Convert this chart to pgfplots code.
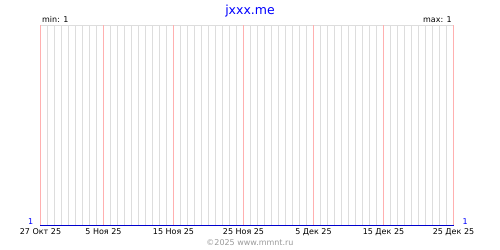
\documentclass[border=0pt]{standalone}
\usepackage{fontspec}
\setmainfont{DejaVu Sans}
\usepackage{pgfplots}
\pgfplotsset{compat=1.18}
\definecolor{gridgray}{HTML}{DDDDDD}
\definecolor{gridpink}{HTML}{FFB0B0}
\definecolor{lineblue}{HTML}{0000CC}
\definecolor{titleblue}{HTML}{0000FF}
\definecolor{copygray}{HTML}{999999}
\begin{document}
\begin{tikzpicture}
\path[use as bounding box] (0,0) rectangle (500bp,250bp);
\begin{axis}[
  at={(40.5bp,24.5bp)}, anchor=south west,
  scale only axis, width=413bp, height=200bp,
  xmin=0, xmax=59, ymin=1, ymax=2,
  axis line style={draw=none},
  xtick={0,9,19,29,39,49,59},
  xticklabels={27 Окт 25,5 Ноя 25,15 Ноя 25,25 Ноя 25,5 Дек 25,15 Дек 25,25 Дек 25},
  minor xtick={1,...,8,10,11,...,18,20,21,...,28,30,31,...,38,40,41,...,48,50,51,...,58},
  ytick=\empty,
  xminorgrids=true,
  minor grid style={draw=gridgray, line width=1bp},
  major tick length=0pt, minor tick length=0pt,
  tick label style={font=\fontsize{8bp}{9bp}\selectfont},
  clip=false,
]
\draw[draw=gridgray, line width=1bp] (rel axis cs:0,1) -- (rel axis cs:1,1);
\pgfplotsinvokeforeach{0,9,19,29,39,49,59}{
  \draw[draw=gridpink, line width=1bp] (axis cs:#1,1) -- (axis cs:#1,2);
}
\addplot[lineblue, line width=1.5bp] coordinates {(0,1) (59,1)};
\node[titleblue, anchor=south east, inner sep=0pt, font=\fontsize{8bp}{9bp}\selectfont] at ([xshift=-7bp,yshift=1bp]axis cs:0,1) {1};
\node[titleblue, anchor=south west, inner sep=0pt, font=\fontsize{8bp}{9bp}\selectfont] at ([xshift=9bp,yshift=1bp]axis cs:59,1) {1};
\end{axis}
\node[titleblue, font=\fontsize{12.5bp}{14bp}\selectfont] at (250bp,239bp) {jxxx.me};
\node[anchor=base west, font=\fontsize{8bp}{9bp}\selectfont, inner sep=0pt] at (42bp,227.5bp) {min: 1};
\node[anchor=base east, font=\fontsize{8bp}{9bp}\selectfont, inner sep=0pt] at (452bp,227.5bp) {max: 1};
\node[copygray, font=\fontsize{8bp}{9bp}\selectfont] at (250bp,7bp) {©2025 www.mmnt.ru};
\end{tikzpicture}
\end{document}
